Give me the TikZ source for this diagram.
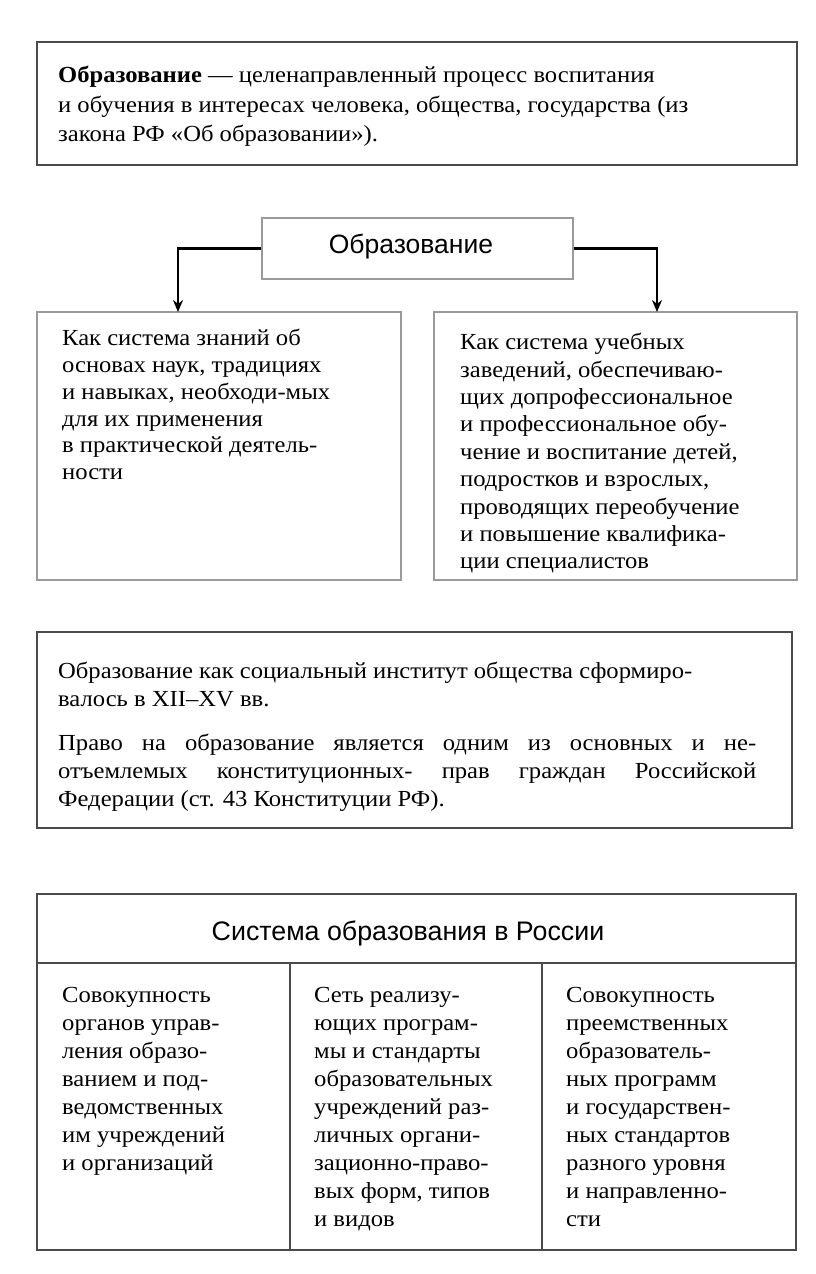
\documentclass[tikz,border=0pt]{standalone}
\usepackage{fontspec}
\setmainfont{Liberation Serif}[FakeStretch=1.07]
\setsansfont{Liberation Sans}
\usepackage{xcolor}
\usetikzlibrary{calc, positioning, arrows.meta}

\definecolor{frame}{HTML}{4A4A4A}
\definecolor{thin}{HTML}{9A9A9A}

\tikzset{
    darkbox/.style={draw=frame, line width=2.2pt, inner sep=0pt},
    lightbox/.style={draw=thin, line width=1.4pt, inner sep=0pt},
    txt/.style={anchor=north west, inner sep=0pt, align=left,
        font=\fontsize{23}{28}\selectfont},
    head/.style={inner sep=0pt, font=\sffamily\fontsize{26}{30}\selectfont},
}

\begin{document}
\begin{tikzpicture}[x=1pt, y=-1pt, >={Stealth[length=12pt, width=10pt]}]

    \useasboundingbox (0,0) rectangle (816,1274);

    % =================================================================
    % BLOCK 1: DEFINITION
    % =================================================================
    \node[darkbox, minimum width=760pt, minimum height=123pt] (def) at (417,103.5) {};
    \node[txt, font=\fontsize{23}{29.5}\selectfont] (deftxt) at (58,66)
        {\textbf{Образование} — целенаправленный процесс воспитания\\
         и обучения в интересах человека, общества, государства (из\\
         закона РФ «Об образовании»).};

    % =================================================================
    % BLOCK 2: EDUCATION AND ITS TWO MEANINGS
    % =================================================================
    \node[lightbox, minimum width=311pt, minimum height=61pt] (obr) at (417.5,248.5) {};
    \node[head, font=\sffamily\fontsize{26.5}{30}\selectfont] (obrtxt) at (411,247) {Образование};

    \node[lightbox, minimum width=364pt, minimum height=268pt] (know) at (219,446) {};
    \node[lightbox, minimum width=363pt, minimum height=268pt] (inst) at (615.5,446) {};

    \coordinate (knowtop) at (178,312);
    \coordinate (insttop) at (657,312);

    \draw[->, line width=2.2pt] (obr.west) -| (knowtop);
    \draw[->, line width=2.2pt] (obr.east) -| (insttop);

    \node[txt, font=\fontsize{23}{26.8}\selectfont] (knowtxt) at (62,329)
        {Как система знаний об\\
         основах наук, традициях\\
         и навыках, необходи-мых\\
         для их применения\\
         в практической деятель-\\
         ности};

    \node[txt, font=\fontsize{23}{27.4}\selectfont] (insttxt) at (460,333)
        {Как система учебных\\
         заведений, обеспечиваю-\\
         щих допрофессиональное\\
         и профессиональное обу-\\
         чение и воспитание детей,\\
         подростков и взрослых,\\
         проводящих переобучение\\
         и повышение квалифика-\\
         ции специалистов};

    % =================================================================
    % BLOCK 3: SOCIAL INSTITUTION
    % =================================================================
    \node[darkbox, minimum width=755pt, minimum height=196pt] (hist) at (414.5,730) {};
    \node[txt] (histtxt) at (58,662)
        {Образование как социальный институт общества сформиро-\\
         валось в XII–XV вв.\\[16pt]
         \makebox[698pt][s]{Право на образование является одним из основных и не-}\\
         \makebox[698pt][s]{отъемлемых конституционных- прав граждан Российской}\\
         Федерации (ст. 43 Конституции РФ).};

    % =================================================================
    % BLOCK 4: SYSTEM OF EDUCATION IN RUSSIA
    % =================================================================
    \node[darkbox, minimum width=759pt, minimum height=356pt] (sys) at (416.5,1072) {};
    \coordinate (hl) at (37,963);
    \coordinate (hr) at (796,963);
    \draw[frame, line width=2pt] (hl) -- (hr);
    \node[head, font=\sffamily\fontsize{26.8}{30}\selectfont] (systxt) at (408,933) {Система образования в России};

    \coordinate (c1) at (290,963);
    \coordinate (c2) at (542,963);
    \draw[frame, line width=2pt] (c1) -- (c1 |- sys.south);
    \draw[frame, line width=2pt] (c2) -- (c2 |- sys.south);

    \node[txt] (col1) at (62,987)
        {Совокупность\\
         органов управ-\\
         ления образо-\\
         ванием и под-\\
         ведомственных\\
         им учреждений\\
         и организаций};

    \node[txt] (col2) at (314,987)
        {Сеть реализу-\\
         ющих програм-\\
         мы и стандарты\\
         образовательных\\
         учреждений раз-\\
         личных органи-\\
         зационно-право-\\
         вых форм, типов\\
         и видов};

    \node[txt] (col3) at (566,987)
        {Совокупность\\
         преемственных\\
         образователь-\\
         ных программ\\
         и государствен-\\
         ных стандартов\\
         разного уровня\\
         и направленно-\\
         сти};

\end{tikzpicture}
\end{document}
